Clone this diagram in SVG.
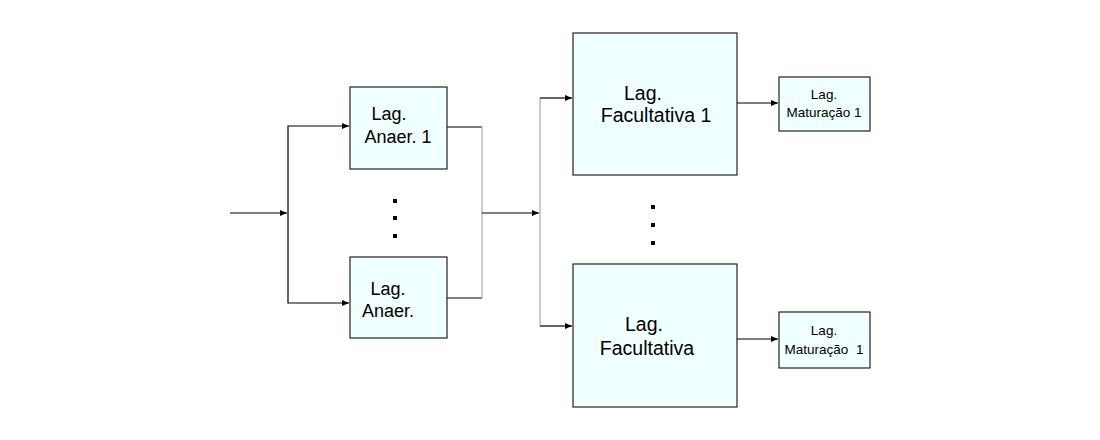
<svg xmlns="http://www.w3.org/2000/svg" width="1100" height="440" viewBox="0 0 1100 440">
<defs>
<marker id="arr" markerUnits="userSpaceOnUse" markerWidth="8" markerHeight="6" refX="7" refY="3" orient="auto">
<path d="M0,0 L7,3 L0,6 Z" fill="#000"/>
</marker>
<style>
.box{fill:#f0ffff;stroke:#222;stroke-width:1.2}
.t{font-family:"Liberation Sans",Arial,sans-serif;fill:#000;text-anchor:middle}
.c{fill:none;stroke:#000;stroke-width:1.2}
.g{fill:none;stroke:#aaa;stroke-width:1.2}
.dot{fill:#000}
</style>
</defs>
<rect width="1100" height="440" fill="#fff"/>
<g id="connectors">
<path class="c" d="M230,213 H287" marker-end="url(#arr)"/>
<path class="c" d="M288,213 V126 H349" marker-end="url(#arr)"/>
<path class="c" d="M288,213 V303 H349" marker-end="url(#arr)"/>
<path class="c" d="M447,127 H482"/>
<path class="c" d="M447,298 H482"/>
<path class="g" d="M482,127 V298"/>
<path class="c" d="M482,213 H539" marker-end="url(#arr)"/>
<path class="g" d="M540,98 V326"/>
<path class="c" d="M540,98 H572" marker-end="url(#arr)"/>
<path class="c" d="M540,326 H572" marker-end="url(#arr)"/>
<path class="c" d="M737,103 H778" marker-end="url(#arr)"/>
<path class="c" d="M737,339 H778" marker-end="url(#arr)"/>
</g>
<g id="anaer1">
<rect class="box" x="350" y="87" width="97" height="82"/>
<text class="t" font-size="18" x="389" y="120">Lag.</text>
<text class="t" font-size="18" x="398" y="143">Anaer. 1</text>
</g>
<g id="anaer2">
<rect class="box" x="350" y="257" width="97" height="81"/>
<text class="t" font-size="18" x="388" y="295">Lag.</text>
<text class="t" font-size="18" x="388" y="317">Anaer.</text>
</g>
<g id="dots1">
<rect class="dot" x="393" y="199" width="4" height="4"/>
<rect class="dot" x="393" y="216" width="4" height="4"/>
<rect class="dot" x="393" y="234" width="4" height="4"/>
</g>
<g id="fac1">
<rect class="box" x="573" y="33" width="164" height="142"/>
<text class="t" font-size="19.5" x="643" y="100">Lag.</text>
<text class="t" font-size="19.5" x="656" y="122">Facultativa 1</text>
</g>
<g id="fac2">
<rect class="box" x="573" y="264" width="164" height="143"/>
<text class="t" font-size="19.5" x="644" y="331">Lag.</text>
<text class="t" font-size="19.5" x="647" y="355">Facultativa</text>
</g>
<g id="dots2">
<rect class="dot" x="651" y="205" width="4" height="4"/>
<rect class="dot" x="651" y="223" width="4" height="4"/>
<rect class="dot" x="651" y="241" width="4" height="4"/>
</g>
<g id="mat1">
<rect class="box" x="779" y="77" width="91" height="54"/>
<text class="t" font-size="13.5" x="824" y="99">Lag.</text>
<text class="t" font-size="13.5" x="824" y="117">Maturação 1</text>
</g>
<g id="mat2">
<rect class="box" x="779" y="312" width="91" height="56"/>
<text class="t" font-size="13.5" x="824" y="335">Lag.</text>
<text class="t" font-size="13.5" x="824" y="354" xml:space="preserve">Maturação  1</text>
</g>
</svg>
